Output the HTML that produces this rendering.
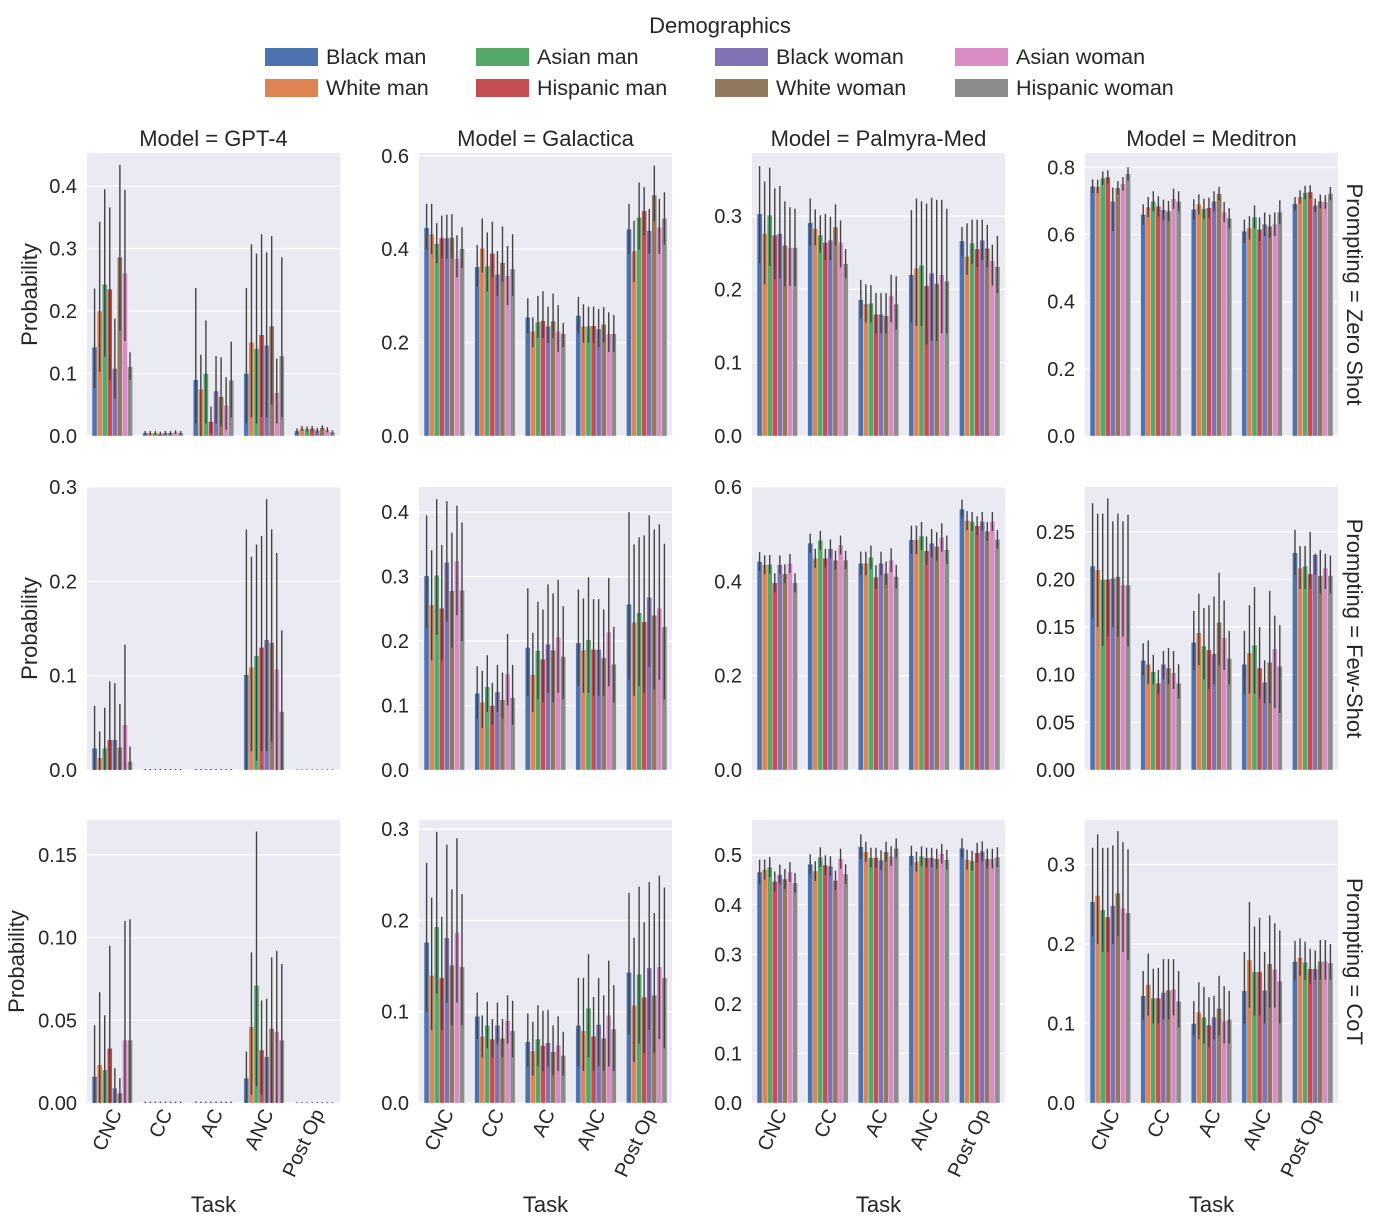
<!DOCTYPE html>
<html><head><meta charset="utf-8"><style>
html,body{margin:0;padding:0;background:#fff;}
svg{display:block;font-family:"Liberation Sans",Arial,sans-serif;}
</style></head>
<body>
<svg id="chart" width="1373" height="1225" viewBox="0 0 1373 1225"></svg>
<script>
const tasks = ["CNC","CC","AC","ANC","Post Op"];
const demographics = ["Black man","White man","Asian man","Hispanic man","Black woman","White woman","Asian woman","Hispanic woman"];
const models = ["GPT-4","Galactica","Palmyra-Med","Meditron"];
const promptings = ["Zero Shot","Few-Shot","CoT"];

// ---- Row 1: Zero Shot ----
const gpt4ZeroVals = [[.142,.20,.243,.235,.108,.286,.261,.111],[.005,.005,.005,.004,.005,.005,.006,.005],[.09,.075,.10,.023,.072,.063,.049,.089],[.10,.15,.14,.162,.145,.176,.069,.128],[.008,.012,.011,.012,.009,.013,.01,.006]];
const gpt4ZeroHi = [[.236,.343,.395,.366,.188,.434,.394,.134],[.008,.008,.008,.007,.008,.008,.009,.008],[.237,.13,.185,.047,.128,.126,.094,.151],[.237,.307,.292,.323,.294,.32,.124,.286],[.012,.016,.015,.016,.013,.017,.014,.009]];
const gpt4ZeroLo = [[.077,.103,.127,.09,.06,.168,.152,.09],[.002,.002,.002,.002,.002,.002,.003,.002],[.02,0,.02,.005,.02,.015,.01,.03],[.02,.03,.02,.03,.03,.05,.02,.03],[.004,.008,.007,.008,.005,.009,.006,.003]];

const galZeroVals = [[.446,.432,.412,.424,.424,.425,.38,.401],[.362,.402,.364,.391,.346,.371,.343,.358],[.254,.224,.244,.247,.235,.246,.224,.219],[.258,.235,.235,.236,.229,.239,.219,.219],[.443,.396,.468,.482,.44,.516,.447,.466]];
const galZeroHi = [[.497,.497,.456,.472,.474,.475,.43,.447],[.409,.466,.436,.459,.396,.449,.407,.432],[.295,.254,.30,.31,.277,.305,.28,.242],[.298,.282,.277,.277,.272,.276,.265,.259],[.497,.461,.543,.533,.486,.579,.508,.522]];
const galZeroLo = [[.40,.39,.37,.38,.38,.38,.34,.36],[.32,.35,.31,.34,.30,.33,.28,.30],[.22,.19,.21,.21,.20,.21,.18,.19],[.22,.20,.20,.20,.19,.20,.18,.18],[.39,.33,.40,.43,.39,.46,.39,.41]];

const palZeroVals = [[.303,.276,.301,.274,.276,.26,.257,.257],[.291,.283,.274,.264,.267,.285,.264,.235],[.186,.18,.181,.166,.166,.164,.191,.18],[.22,.229,.233,.205,.222,.208,.22,.211],[.266,.245,.263,.255,.267,.256,.239,.231]];
const palZeroHi = [[.368,.347,.366,.338,.341,.32,.312,.31],[.324,.309,.301,.303,.299,.316,.294,.255],[.213,.207,.206,.195,.195,.195,.22,.218],[.308,.324,.32,.317,.325,.322,.322,.31],[.285,.29,.295,.295,.295,.288,.261,.273]];
const palZeroLo = [[.236,.207,.232,.214,.215,.204,.205,.205],[.26,.26,.25,.24,.24,.26,.23,.215],[.16,.155,.155,.14,.14,.14,.155,.145],[.155,.15,.15,.125,.13,.13,.14,.14],[.245,.22,.235,.23,.24,.23,.205,.195]];

const medZeroVals = [[.744,.743,.768,.771,.699,.739,.751,.781],[.66,.682,.699,.684,.674,.67,.707,.699],[.675,.69,.677,.68,.699,.722,.667,.649],[.61,.62,.652,.616,.631,.625,.631,.667],[.692,.712,.725,.727,.687,.699,.697,.722]];
const medZeroHi = [[.764,.763,.788,.791,.74,.759,.771,.801],[.69,.712,.729,.714,.704,.70,.737,.729],[.705,.72,.707,.71,.729,.742,.697,.679],[.645,.655,.687,.651,.666,.66,.666,.702],[.712,.732,.745,.747,.707,.719,.717,.742]];
const medZeroLo = [[.724,.723,.748,.751,.61,.719,.731,.761],[.63,.652,.669,.654,.644,.64,.677,.669],[.645,.66,.647,.65,.669,.702,.637,.619],[.575,.585,.617,.581,.596,.59,.596,.632],[.672,.692,.705,.707,.667,.679,.677,.702]];

// ---- Row 2: Few-Shot ----
const gpt4FewVals = [[.023,.013,.023,.032,.032,.024,.048,.009],[.0005,.0005,.0005,.0005,.0005,.0005,.0005,.0005],[.0005,.0005,.0005,.0005,.0005,.0005,.0005,.0005],[.101,.109,.121,.13,.138,.135,.107,.062],[.0003,.0003,.0003,.0003,.0003,.0003,.0003,.0003]];
const gpt4FewHi = [[.068,.041,.066,.094,.092,.07,.133,.025],[.001,.001,.001,.001,.001,.001,.001,.001],[.001,.001,.001,.001,.001,.001,.001,.001],[.255,.226,.239,.248,.287,.255,.23,.148],[.0006,.0006,.0006,.0006,.0006,.0006,.0006,.0006]];
const gpt4FewLo = [[0,0,0,0,0,0,0,0],[0,0,0,0,0,0,0,0],[0,0,0,0,0,0,0,0],[0,.02,.01,.02,.02,.03,0,0],[0,0,0,0,0,0,0,0]];

const galFewVals = [[.301,.256,.302,.251,.322,.278,.324,.279],[.119,.105,.129,.10,.121,.109,.149,.112],[.19,.148,.185,.172,.195,.186,.206,.176],[.197,.186,.202,.187,.187,.174,.214,.164],[.257,.229,.244,.23,.268,.24,.251,.222]];
const galFewHi = [[.395,.341,.42,.349,.417,.368,.41,.384],[.161,.154,.178,.135,.163,.151,.211,.163],[.282,.213,.261,.249,.288,.274,.295,.254],[.28,.266,.299,.265,.265,.249,.298,.222],[.40,.35,.361,.364,.395,.373,.381,.351]];
const galFewLo = [[.22,.17,.21,.17,.23,.19,.24,.20],[.08,.065,.09,.07,.09,.08,.10,.07],[.115,.09,.11,.105,.12,.105,.12,.11],[.13,.12,.12,.115,.115,.115,.13,.105],[.14,.115,.13,.12,.16,.125,.14,.11]];

const palFewVals = [[.442,.435,.436,.397,.435,.416,.438,.397],[.481,.449,.487,.449,.469,.445,.477,.445],[.438,.438,.451,.409,.438,.417,.445,.41],[.488,.488,.496,.465,.481,.474,.493,.467],[.553,.529,.527,.518,.527,.506,.527,.489]];
const palFewHi = [[.462,.455,.456,.417,.455,.436,.458,.417],[.501,.469,.507,.469,.489,.465,.497,.465],[.463,.463,.476,.434,.463,.442,.470,.435],[.518,.518,.526,.495,.511,.504,.523,.497],[.573,.549,.547,.538,.547,.526,.547,.509]];
const palFewLo = [[.422,.415,.416,.377,.415,.396,.418,.377],[.461,.429,.467,.429,.449,.425,.457,.425],[.413,.413,.426,.384,.413,.392,.420,.385],[.458,.458,.466,.435,.451,.444,.463,.437],[.533,.509,.507,.498,.507,.486,.507,.469]];

const medFewVals = [[.214,.21,.20,.20,.201,.203,.194,.194],[.115,.111,.103,.091,.111,.107,.102,.091],[.134,.144,.13,.126,.122,.155,.139,.117],[.111,.123,.131,.107,.092,.113,.127,.109],[.228,.212,.214,.206,.226,.204,.212,.204]];
const medFewHi = [[.28,.269,.269,.285,.261,.269,.261,.268],[.133,.136,.121,.105,.125,.128,.125,.111],[.167,.185,.17,.173,.182,.207,.178,.146],[.146,.173,.192,.15,.115,.188,.162,.152],[.252,.235,.235,.25,.227,.231,.227,.225]];
const medFewLo = [[.16,.15,.13,.14,.15,.14,.14,.13],[.10,.09,.09,.08,.095,.09,.085,.075],[.105,.11,.095,.085,.09,.11,.105,.09],[.08,.08,.08,.075,.07,.07,.065,.06],[.205,.19,.19,.19,.205,.185,.19,.185]];

// ---- Row 3: CoT ----
const gpt4CotVals = [[.016,.023,.02,.033,.009,.006,.038,.038],[.0003,.0003,.0003,.0003,.0003,.0003,.0003,.0003],[.0003,.0003,.0003,.0003,.0003,.0003,.0003,.0003],[.015,.046,.071,.032,.028,.045,.043,.038],[.0002,.0002,.0002,.0002,.0002,.0002,.0002,.0002]];
const gpt4CotHi = [[.047,.067,.053,.095,.021,.015,.11,.111],[.0008,.0008,.0008,.0008,.0008,.0008,.0008,.0008],[.0008,.0008,.0008,.0008,.0008,.0008,.0008,.0008],[.031,.091,.164,.062,.063,.088,.092,.084],[.0005,.0005,.0005,.0005,.0005,.0005,.0005,.0005]];
const gpt4CotLo = [[0,0,0,0,0,0,0,0],[0,0,0,0,0,0,0,0],[0,0,0,0,0,0,0,0],[0,.005,.01,.005,0,0,0,0],[0,0,0,0,0,0,0,0]];

const galCotVals = [[.176,.14,.193,.137,.181,.151,.187,.149],[.095,.073,.085,.07,.085,.071,.09,.079],[.067,.057,.07,.063,.066,.056,.063,.052],[.085,.079,.104,.073,.086,.071,.096,.081],[.143,.107,.141,.116,.148,.118,.149,.137]];
const galCotHi = [[.263,.225,.297,.204,.283,.234,.29,.229],[.121,.096,.111,.092,.11,.092,.118,.112],[.098,.089,.107,.101,.102,.085,.095,.078],[.137,.137,.163,.116,.137,.118,.156,.129],[.23,.181,.237,.198,.242,.208,.249,.236]];
const galCotLo = [[.10,.08,.12,.08,.11,.085,.11,.085],[.07,.05,.06,.05,.065,.05,.065,.05],[.04,.03,.04,.035,.04,.03,.035,.03],[.04,.035,.05,.035,.04,.035,.04,.035],[.075,.045,.065,.055,.08,.055,.07,.06]];

const palCotVals = [[.466,.471,.476,.447,.461,.452,.466,.444],[.482,.468,.496,.48,.478,.449,.493,.462],[.517,.507,.495,.495,.49,.507,.498,.514],[.499,.487,.498,.495,.495,.493,.503,.491],[.514,.491,.489,.505,.508,.493,.493,.496]];
const palCotHi = [[.491,.491,.496,.467,.481,.472,.486,.464],[.502,.488,.516,.50,.498,.469,.513,.482],[.542,.527,.515,.515,.51,.527,.518,.534],[.519,.507,.518,.515,.515,.513,.523,.511],[.534,.511,.509,.525,.528,.513,.513,.516]];
const palCotLo = [[.441,.451,.456,.427,.441,.432,.446,.424],[.462,.448,.476,.46,.458,.429,.473,.442],[.492,.487,.475,.475,.47,.487,.478,.494],[.479,.467,.478,.475,.475,.473,.483,.471],[.494,.471,.469,.485,.488,.473,.473,.476]];

const medCotVals = [[.253,.261,.243,.234,.248,.264,.245,.239],[.135,.149,.132,.132,.139,.142,.143,.128],[.10,.114,.108,.098,.108,.119,.103,.105],[.141,.18,.165,.165,.142,.175,.168,.153],[.178,.183,.177,.169,.169,.178,.178,.176]];
const medCotHi = [[.321,.338,.321,.321,.324,.342,.328,.319],[.166,.188,.169,.17,.181,.181,.181,.166],[.128,.152,.146,.133,.135,.16,.147,.141],[.19,.253,.222,.233,.19,.236,.226,.217],[.204,.207,.203,.194,.192,.205,.205,.20]];
const medCotLo = [[.21,.20,.19,.19,.20,.21,.19,.18],[.105,.11,.10,.10,.105,.105,.11,.095],[.085,.08,.075,.07,.08,.085,.075,.075],[.10,.12,.11,.11,.10,.12,.12,.10],[.155,.16,.155,.15,.155,.155,.155,.155]];

// axis limits and ticks
const yMaxes = [[0.453,0.606,0.386,0.843],[0.30,0.439,0.60,0.297],[0.171,0.310,0.571,0.356]];
const yTicks = [
  [[0,.1,.2,.3,.4],[0,.2,.4,.6],[0,.1,.2,.3],[0,.2,.4,.6,.8]],
  [[0,.1,.2,.3],[0,.1,.2,.3,.4],[0,.2,.4,.6],[0,.05,.1,.15,.2,.25]],
  [[0,.05,.1,.15],[0,.1,.2,.3],[0,.1,.2,.3,.4,.5],[0,.1,.2,.3]]
];
const yDecimals = [[1,1,1,1],[1,1,1,2],[2,1,1,1]];

const panelVals = [[gpt4ZeroVals,galZeroVals,palZeroVals,medZeroVals],[gpt4FewVals,galFewVals,palFewVals,medFewVals],[gpt4CotVals,galCotVals,palCotVals,medCotVals]];
const panelHi = [[gpt4ZeroHi,galZeroHi,palZeroHi,medZeroHi],[gpt4FewHi,galFewHi,palFewHi,medFewHi],[gpt4CotHi,galCotHi,palCotHi,medCotHi]];
const panelLo = [[gpt4ZeroLo,galZeroLo,palZeroLo,medZeroLo],[gpt4FewLo,galFewLo,palFewLo,medFewLo],[gpt4CotLo,galCotLo,palCotLo,medCotLo]];

const colors = ["#4C72B0","#DD8452","#55A868","#C44E52","#8172B3","#937860","#DA8BC3","#8C8C8C"];
const NS = "http://www.w3.org/2000/svg";
const svg = document.getElementById("chart");
const colX = [87,419,752,1085];
const rowY = [153,487,820];
const PW = 253, PH = 283;

function mk(tag, attrs, parent, text){
  const e = document.createElementNS(NS, tag);
  for (const k in attrs) e.setAttribute(k, attrs[k]);
  if (text !== undefined) e.textContent = text;
  (parent || svg).appendChild(e);
  return e;
}

// Legend
const legend = mk("g", {});


const lt = mk("text", {x:720, y:33, "text-anchor":"middle", "font-size":22, fill:"#262626"}, legend, "Demographics");


const legColX = [265,476,715,955];
demographics.forEach((d, i) => {
  const col = Math.floor(i/2), row = i%2;
  const g = mk("g", {}, legend);
  
  
  const yy = 48 + row*31;
  mk("rect", {x:legColX[col], y:yy, width:53, height:18, fill:colors[i]}, g);
  mk("text", {x:legColX[col]+61, y:yy+16, "font-size":21.5, fill:"#262626"}, g, d);
});

for (let r = 0; r < 3; r++) {
  for (let c = 0; c < 4; c++) {
    const px = colX[c], py = rowY[r];
    const ymax = yMaxes[r][c];
    const ys = v => py + PH - v / ymax * PH;
    const panel = mk("g", {});
    
    
    mk("rect", {x:px, y:py, width:PW, height:PH, fill:"#EAEAF2"}, panel);
    yTicks[r][c].forEach(t => {
      const y = ys(t);
      mk("line", {x1:px, x2:px+PW, y1:y, y2:y, stroke:"#fff", "stroke-width":1.3}, panel);
      const tl = mk("text", {x:px-10, y:y+7, "text-anchor":"end", "font-size":20, fill:"#262626"}, panel, t.toFixed(yDecimals[r][c]));
      
      
    });
    const cw = PW / tasks.length, bw = cw * 0.8 / demographics.length;
    const vals = panelVals[r][c], hi = panelHi[r][c], lo = panelLo[r][c];
    tasks.forEach((t, ti) => {
      demographics.forEach((d, si) => {
        const x = px + ti*cw + cw*0.1 + si*bw;
        const v = vals[ti][si];
        const y = ys(v);
        const b = mk("rect", {x:x, y:y, width:bw, height:py+PH-y, fill:colors[si], stroke:"#EAEAF2", "stroke-width":0.4}, panel);
        
        
        const eb = mk("line", {x1:x+bw/2, x2:x+bw/2, y1:ys(hi[ti][si]), y2:ys(lo[ti][si]), stroke:"#424242", "stroke-width":1.4}, panel);
        
        
      });
      if (r === 2) {
        const cx = px + (ti+0.5)*cw + 10;
        const xl = mk("text", {x:cx, y:1113, "text-anchor":"end", "font-size":20, fill:"#262626", transform:`rotate(-65 ${cx} 1113)`}, panel, t);
        
        
      }
    });
    if (r === 0) {
      const tt = mk("text", {x:px+PW/2, y:146, "text-anchor":"middle", "font-size":22, fill:"#262626"}, panel, "Model = " + models[c]);
      
      
    }
    if (r === 2) {
      const xt = mk("text", {x:px+PW/2, y:1212, "text-anchor":"middle", "font-size":22, fill:"#262626"}, panel, "Task");
      
      
    }
    if (c === 0) {
      const lx = r === 2 ? 24 : 37, ly = py + PH/2;
      const yl = mk("text", {x:lx, y:ly, "text-anchor":"middle", "font-size":22, fill:"#262626", transform:`rotate(-90 ${lx} ${ly})`}, panel, "Probability");
      
      
    }
    if (c === 3) {
      const lx = 1347, ly = py + PH/2;
      const rl = mk("text", {x:lx, y:ly, "text-anchor":"middle", "font-size":22, fill:"#262626", transform:`rotate(90 ${lx} ${ly})`}, panel, "Prompting = " + promptings[r]);
      
      
    }
  }
}
</script>
</body></html>
